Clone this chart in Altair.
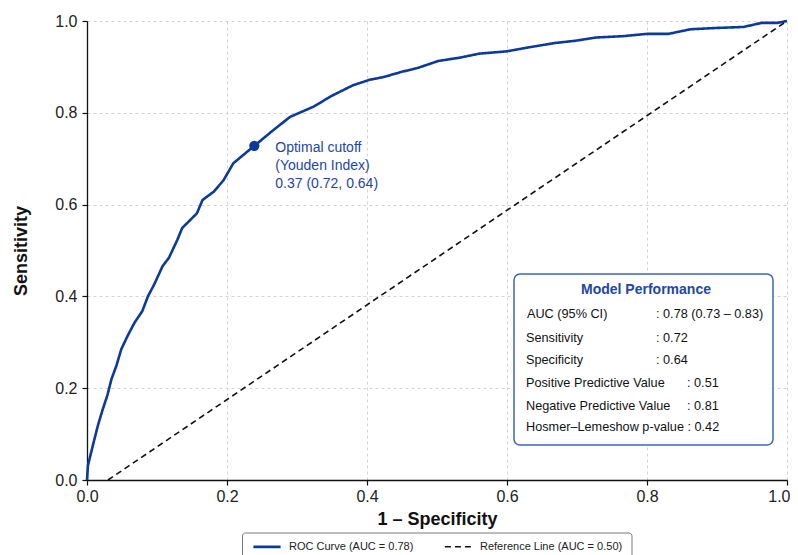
import altair as alt
import pandas as pd

# ---------------- data ----------------
fpr = [0.0, 0.0014, 0.0085, 0.0156, 0.0227, 0.029, 0.035, 0.042, 0.049, 0.058,
       0.068, 0.079, 0.087, 0.096, 0.108, 0.117, 0.129, 0.136, 0.157, 0.165,
       0.181, 0.195, 0.209, 0.239, 0.266, 0.29, 0.323, 0.351, 0.38, 0.404,
       0.424, 0.449, 0.473, 0.502, 0.532, 0.561, 0.6, 0.629, 0.668, 0.698,
       0.727, 0.766, 0.8, 0.831, 0.862, 0.902, 0.938, 0.964, 0.987, 1.0]
tpr = [0.0, 0.032, 0.076, 0.119, 0.155, 0.184, 0.22, 0.249, 0.285, 0.314,
       0.343, 0.368, 0.40, 0.426, 0.466, 0.484, 0.523, 0.549, 0.581, 0.61,
       0.628, 0.653, 0.69, 0.728, 0.762, 0.791, 0.813, 0.838, 0.86, 0.872,
       0.878, 0.889, 0.898, 0.913, 0.92, 0.929, 0.934, 0.942, 0.952, 0.957,
       0.964, 0.967, 0.972, 0.972, 0.982, 0.985, 0.987, 0.996, 0.996, 1.0]
ref_x = [0.03, 1.0]
ref_y = [0.0, 1.0]
series_names = ["ROC Curve (AUC = 0.78)", "Reference Line (AUC = 0.50)"]

cutoff_x = [0.239]
cutoff_y = [0.728]
cutoff_text = ["Optimal cutoff", "(Youden Index)", "0.37 (0.72, 0.64)"]

table_title = "Model Performance"
table_labels = ["AUC (95% CI)", "Sensitivity", "Specificity",
                "Positive Predictive Value", "Negative Predictive Value",
                "Hosmer\u2013Lemeshow p-value"]
table_values = [": 0.78 (0.73 \u2013 0.83)", ": 0.72", ": 0.64", ": 0.51", ": 0.81", ": 0.42"]

tick_values = [0.0, 0.2, 0.4, 0.6, 0.8, 1.0]

# ---------------- build tables ----------------
rows = []
for i, (a, b) in enumerate(zip(fpr, tpr)):
    rows.append({"x": a, "y": b, "series": series_names[0], "idx": i})
for i, (a, b) in enumerate(zip(ref_x, ref_y)):
    rows.append({"x": a, "y": b, "series": series_names[1], "idx": i})
df_lines = pd.DataFrame(rows)
df_cut = pd.DataFrame({"x": cutoff_x, "y": cutoff_y, "t": [cutoff_text]})

FONT = "Liberation Sans"
BLUE = "#0c3a9c"
TXT_BLUE = "#1d46a9"

legend_cfg = dict(
    orient="none", legendX=165, legendY=510.5, direction="horizontal", title=None,
    padding=0, symbolType="stroke", symbolSize=740, symbolStrokeWidth=2,
    labelFontSize=11, labelFont=FONT, labelColor="#222", labelOffset=7,
    columnPadding=27,
)

color_scale = alt.Scale(domain=series_names, range=[BLUE, "#111111"])
dash_scale = alt.Scale(domain=series_names, range=[[1, 0], [6, 4]])
width_scale = alt.Scale(domain=series_names, range=[2.6, 1.6])

x_enc = alt.X("x:Q", scale=alt.Scale(domain=[0, 1], nice=False),
              axis=alt.Axis(values=tick_values, format=".1f", title="1 \u2013 Specificity",
                            titleY=39, titleBaseline="middle", labelFlush=False,
                            labelAlign={"condition": {"test": "datum.value >= 1", "value": "right"},
                                        "value": "center"},
                            labelOffset={"condition": {"test": "datum.value >= 1", "value": 3},
                                         "value": 0}))
y_enc = alt.Y("y:Q", scale=alt.Scale(domain=[0, 1], nice=False),
              axis=alt.Axis(values=tick_values, format=".1f", title="Sensitivity",
                            titleX=-66, titleY=229.5, titleAngle=270,
                            titleBaseline="middle", titleAlign="center", labelFlush=False))

one = pd.DataFrame({"k": [0]})

# legend frame (drawn behind the legend entries)
legend_box = alt.Chart(one).mark_rect(fill="white", stroke="#7a7a7a", strokeWidth=1,
                                       cornerRadius=3, clip=False).encode(
    x=alt.value(155.5), x2=alt.value(545), y=alt.value(512), y2=alt.value(548))

lines = alt.Chart(df_lines).mark_line().encode(
    x=x_enc, y=y_enc,
    color=alt.Color("series:N", scale=color_scale, legend=alt.Legend(**legend_cfg)),
    strokeDash=alt.StrokeDash("series:N", scale=dash_scale, legend=alt.Legend(**legend_cfg)),
    strokeWidth=alt.StrokeWidth("series:N", scale=width_scale, legend=None),
    order=alt.Order("idx:Q"),
)

dot = alt.Chart(df_cut).mark_circle(size=105, opacity=1, color=BLUE).encode(
    x="x:Q", y="y:Q")
dot_text = alt.Chart(df_cut).mark_text(
    align="left", baseline="top", dx=21, dy=-5, fontSize=14, lineHeight=18,
    font=FONT, color=TXT_BLUE).encode(x="x:Q", y="y:Q", text="t")

box = alt.Chart(one).mark_rect(fill="white", stroke="#3a64c4", strokeWidth=1.5,
                                cornerRadius=6).encode(
    x=alt.value(427), x2=alt.value(686), y=alt.value(253), y2=alt.value(424))
title_t = alt.Chart(one).mark_text(fontSize=14, fontWeight="bold", font=FONT,
                                   color=TXT_BLUE, baseline="middle", align="center").encode(
    x=alt.value(559), y=alt.value(269), text=alt.value(table_title))

row_y = [293, 317, 339, 362, 384.5, 406]
value_x = [569, 569, 569, 600, 600, None]
table_layers = []
for i, lab in enumerate(table_labels):
    if value_x[i] is None:
        txt = lab + " " + table_values[i]
        table_layers.append(alt.Chart(one).mark_text(
            fontSize=12.7, font=FONT, color="#111", align="left", baseline="middle").encode(
            x=alt.value(439), y=alt.value(row_y[i]), text=alt.value(txt)))
    else:
        table_layers.append(alt.Chart(one).mark_text(
            fontSize=12.7, font=FONT, color="#111", align="left", baseline="middle").encode(
            x=alt.value(439 + (1 if i == 0 else 0)), y=alt.value(row_y[i]), text=alt.value(lab)))
        table_layers.append(alt.Chart(one).mark_text(
            fontSize=12.7, font=FONT, color="#111", align="left", baseline="middle").encode(
            x=alt.value(value_x[i]), y=alt.value(row_y[i]), text=alt.value(table_values[i])))

chart = alt.layer(legend_box, lines, dot, dot_text, box, title_t, *table_layers).properties(
    width=700, height=459,
    autosize=alt.AutoSizeParams(type="none"),
    padding={"left": 79, "top": 13, "right": 3, "bottom": 82},
    background="white",
).configure_view(stroke=None).configure_axis(
    labelFont=FONT, titleFont=FONT, labelFontSize=16, titleFontSize=18,
    titleFontWeight="bold", titleColor="#111", labelColor="#222",
    domainColor="#111", domainWidth=1.3, tickColor="#111", tickSize=5, tickWidth=1.2,
    gridColor="#d4d4d4", gridDash=[3, 3], gridWidth=1,
).configure_axisY(labelPadding=5).configure_axisX(labelPadding=3)

chart.save("out.html", embed_options={"renderer": "svg", "actions": False})
